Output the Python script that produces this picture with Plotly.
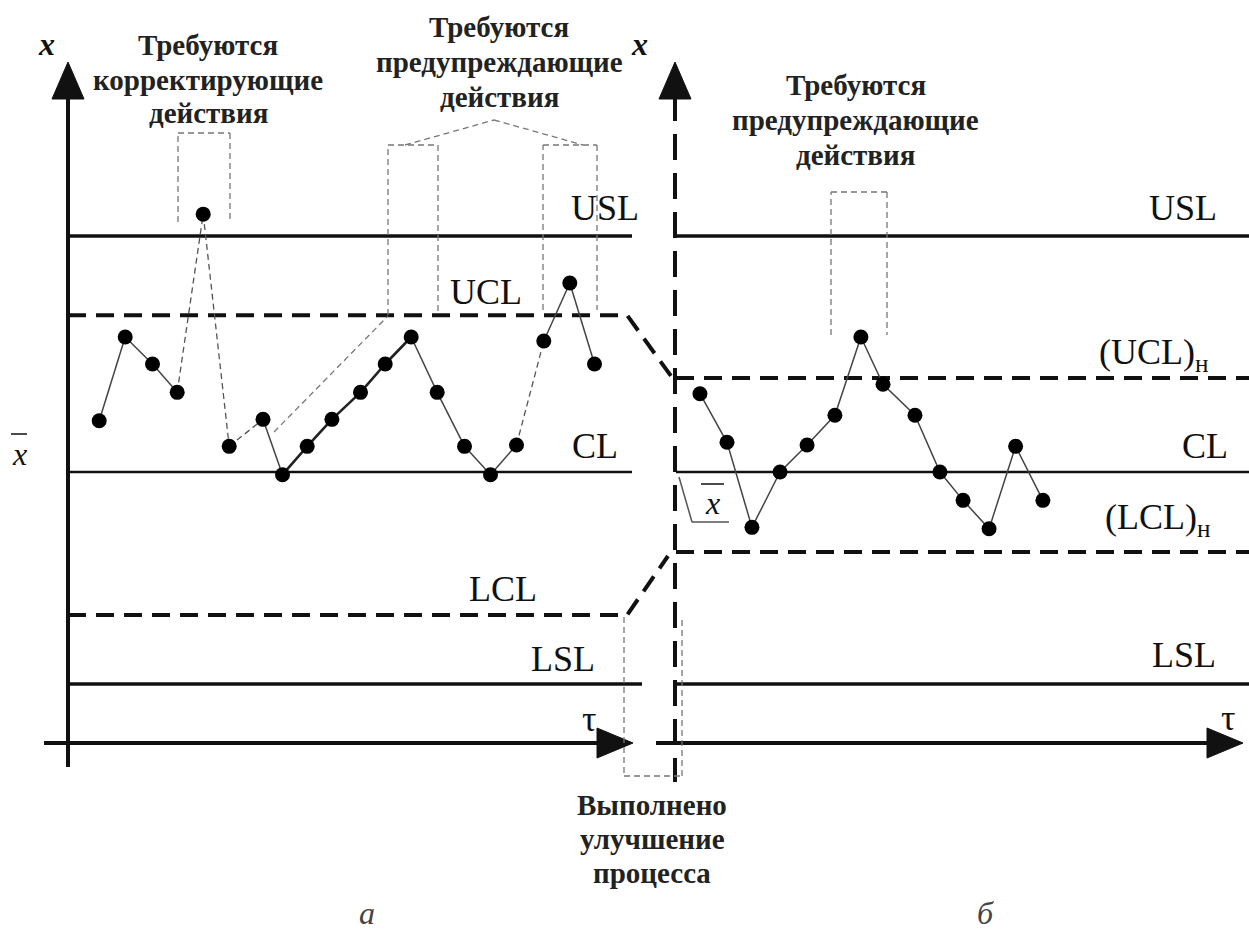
import plotly.graph_objects as go

W, H = 1249, 947

# ---------------- data ----------------
# panel a: time index and sample mean (units: CL = 0)
a_tau = [1.2, 2.2, 3.25, 4.2, 5.2, 6.2, 7.5, 8.25, 9.2, 10.15,
         11.25, 12.2, 13.2, 14.2, 15.25, 16.25, 17.25, 18.3, 19.3, 20.25]
a_xbar = [1.9, 5.0, 4.0, 2.95, 9.55, 0.95, 1.95, -0.1, 0.95, 1.95,
          2.95, 4.0, 5.0, 2.95, 0.95, -0.1, 1.0, 4.85, 7.0, 4.0]
# style of each connecting segment in panel a
a_seg_kind = ["s", "s", "s", "d", "d", "d", "s", "b", "b", "b",
              "b", "b", "s", "s", "s", "s", "d", "s", "s"]

# panel b: time index and sample mean after improvement
b_tau = [0.96, 2.0, 2.96, 4.04, 5.08, 6.15, 7.15, 8.0, 9.23, 10.19,
         11.08, 12.08, 13.1, 14.15]
b_xbar = [2.9, 1.1, -2.05, 0.0, 1.0, 2.1, 5.0, 3.25, 2.1, 0.0,
          -1.05, -2.1, 0.95, -1.05]

# limits
USL = 8.74
LSL = -7.85
CL = 0.0
UCL_A = 5.81
LCL_A = -5.3
UCL_B = 3.48
LCL_B = -2.96

# ---------------- geometry helpers ----------------
PX_TAU = 26.0     # pixels per time unit
PX_X = 27.0       # pixels per value unit
A0, B0, CL0 = 68.0, 675.0, 472.0

def ta(px):  # pixel -> panel-a time units
    return (px - A0) / PX_TAU

def tb(px):  # pixel -> panel-b time units
    return (px - B0) / PX_TAU

def vy(py):  # pixel -> value units
    return (CL0 - py) / PX_X

def fx(px):
    return px / W

def fy(py):
    return 1 - py / H

FONT = "Liberation Serif"
BLACK = "#111111"

fig = go.Figure()

# ---------- limit lines ----------
def hline(x0, x1, y, axis, width, dash="solid", color=BLACK):
    fig.add_trace(go.Scatter(x=[x0, x1], y=[y, y], mode="lines", xaxis=axis,
                             line=dict(color=color, width=width, dash=dash),
                             hoverinfo="skip", showlegend=False))

LDASH = "18px,10px"
hline(ta(68), ta(632), USL, "x", 3.5)
hline(ta(68), ta(632), CL, "x", 2.5)
hline(ta(68), ta(642), LSL, "x", 3.5)
# UCL / LCL of panel a with slanted joins to panel b
fig.add_trace(go.Scatter(x=[ta(68), ta(627), ta(671)], y=[UCL_A, UCL_A, vy(376)],
                         mode="lines", line=dict(color=BLACK, width=4, dash=LDASH),
                         hoverinfo="skip", showlegend=False))
fig.add_trace(go.Scatter(x=[ta(68), ta(627), ta(668)], y=[LCL_A, LCL_A, vy(556)],
                         mode="lines", line=dict(color=BLACK, width=4, dash=LDASH),
                         hoverinfo="skip", showlegend=False))

hline(tb(676), tb(1249), USL, "x2", 3.5)
hline(tb(676), tb(1249), CL, "x2", 2.5)
hline(tb(676), tb(1249), LSL, "x2", 3.5)
hline(tb(676), tb(1249), UCL_B, "x2", 4, LDASH)
hline(tb(676), tb(1249), LCL_B, "x2", 4, LDASH)

# ---------- panel a series ----------
for i, kind in enumerate(a_seg_kind):
    if kind == "d":
        ln = dict(color="#555555", width=1.3, dash="6px,4px")
    elif kind == "b":
        ln = dict(color="#222222", width=2.6)
    else:
        ln = dict(color="#444444", width=1.5)
    fig.add_trace(go.Scatter(x=a_tau[i:i + 2], y=a_xbar[i:i + 2], mode="lines",
                             line=ln, hoverinfo="skip", showlegend=False))
fig.add_trace(go.Scatter(x=a_tau, y=a_xbar, mode="markers",
                         marker=dict(color="black", size=15),
                         hoverinfo="skip", showlegend=False))

# ---------- panel b series ----------
fig.add_trace(go.Scatter(x=b_tau, y=b_xbar, mode="lines+markers", xaxis="x2",
                         line=dict(color="#444444", width=1.5),
                         marker=dict(color="black", size=15),
                         hoverinfo="skip", showlegend=False))

# ---------- shapes (axes, arrows, annotation brackets) ----------
shapes = []

def pline(x0, y0, x1, y1, color=BLACK, width=4, dash="solid"):
    shapes.append(dict(type="line", xref="paper", yref="paper",
                       x0=fx(x0), y0=fy(y0), x1=fx(x1), y1=fy(y1),
                       line=dict(color=color, width=width, dash=dash), layer="above"))

def tri(pts):
    d = "M " + " L ".join(f"{fx(a)},{fy(b)}" for a, b in pts) + " Z"
    shapes.append(dict(type="path", xref="paper", yref="paper", path=d,
                       fillcolor=BLACK, line=dict(color=BLACK, width=1), layer="above"))

# panel a axes
pline(68, 95, 68, 767)
pline(44, 743, 602, 743)
tri([(68, 62), (52, 99), (84, 99)])
tri([(633, 743), (597, 728), (597, 758)])
# panel b axes
pline(675, 95, 675, 782, dash="26px,13px")
pline(656, 743, 1212, 743)
tri([(675, 62), (659, 99), (691, 99)])
tri([(1243, 743), (1207, 728), (1207, 758)])

GR = "#777777"
GD = "6px,4px"
def gl(x0, y0, x1, y1):
    pline(x0, y0, x1, y1, color=GR, width=1.3, dash=GD)

# box over the out-of-spec point
gl(178, 222, 178, 133); gl(178, 133, 230, 133); gl(230, 133, 230, 222)
# boxes for the trend and the near-UCL run
gl(388, 315, 388, 145); gl(388, 145, 438, 145); gl(438, 145, 438, 312)
gl(543, 310, 543, 145); gl(543, 145, 597, 145); gl(597, 145, 597, 310)
gl(405, 145, 494, 120); gl(494, 120, 583, 145)
gl(274, 432, 388, 316)
# panel b box
gl(831, 335, 831, 192); gl(831, 192, 887, 192); gl(887, 192, 887, 335)
# improvement box
gl(624, 617, 624, 776); gl(624, 776, 682, 776); gl(682, 776, 682, 617)
# radical-like mark around x-bar in panel b
pline(679, 477, 692, 522, color="#555555", width=1.5)
pline(692, 522, 729, 522, color="#555555", width=1.5)
# overlines of x-bar
pline(11, 434, 27, 434, color=BLACK, width=1.5)
pline(701, 484, 724, 484, color=BLACK, width=1.5)

# ---------- texts ----------
ann = []

def txt(x, y, s, size=27, color=BLACK, italic=False, bold=False):
    if bold:
        s = "<b>" + s + "</b>"
    if italic:
        s = "<i>" + s + "</i>"
    ann.append(dict(x=fx(x), y=fy(y), xref="paper", yref="paper", text=s,
                    showarrow=False, xanchor="center", yanchor="middle",
                    font=dict(family=FONT, size=size, color=color)))

def mtxt(x, ys, lines, size=29):
    for y, s in zip(ys, lines):
        txt(x, y, s, size=size, color="#222222", bold=True)

txt(46, 44, "x", size=32, italic=True, bold=True)
txt(639, 44, "x", size=32, italic=True, bold=True)
mtxt(208, [45, 80, 113], ["Требуются", "корректирующие", "действия"])
mtxt(499, [27, 62, 97], ["Требуются", "предупреждающие", "действия"])
mtxt(856, [85, 120, 155], ["Требуются", "предупреждающие", "действия"])
mtxt(652, [805, 839, 873], ["Выполнено", "улучшение", "процесса"])

LS = 36
txt(605, 208, "USL", size=LS)
txt(486, 292, "UCL", size=LS)
txt(595, 446, "CL", size=LS)
txt(503, 589, "LCL", size=LS)
txt(563, 659, "LSL", size=LS)
txt(589, 719, "τ", size=LS)

txt(1183, 208, "USL", size=LS)
txt(1153, 355, "(UCL)<sub>н</sub>", size=LS)
txt(1205, 446, "CL", size=LS)
txt(1157, 519, "(LCL)<sub>н</sub>", size=LS)
txt(1184, 655, "LSL", size=LS)
txt(1228, 718, "τ", size=LS)

txt(19, 454, "x", size=32, italic=True)
txt(712, 503, "x", size=32, italic=True)

txt(367, 913, "а", size=32, color="#444444", italic=True)
txt(985, 913, "б", size=32, color="#444444", italic=True)

fig.update_layout(
    width=W, height=H, autosize=False,
    margin=dict(l=0, r=0, t=0, b=0),
    paper_bgcolor="white", plot_bgcolor="white",
    showlegend=False,
    xaxis=dict(range=[ta(0), ta(W)], visible=False, fixedrange=True, domain=[0, 1]),
    xaxis2=dict(range=[tb(0), tb(W)], visible=False, fixedrange=True,
                overlaying="x", domain=[0, 1]),
    yaxis=dict(range=[vy(H), vy(0)], visible=False, fixedrange=True),
    shapes=shapes,
    annotations=ann,
)

fig.write_html("out.html", config={"displayModeBar": False},
               post_script="document.body.style.margin='0';document.body.style.overflow='hidden';")
